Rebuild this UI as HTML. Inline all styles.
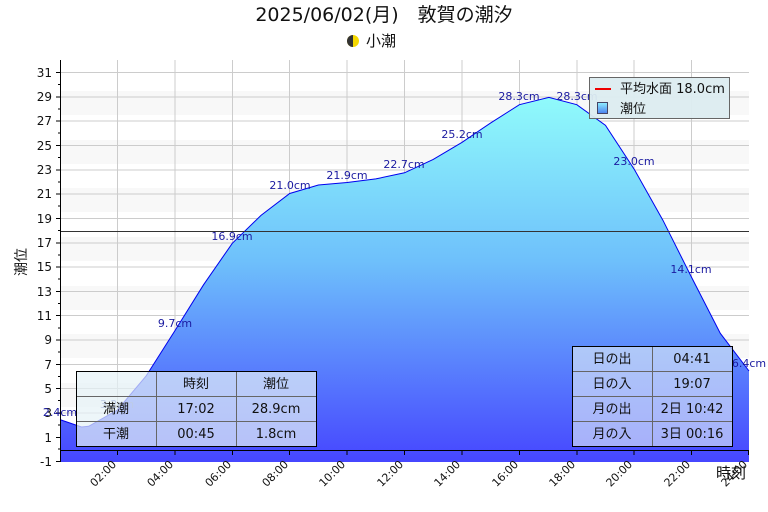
<!DOCTYPE html>
<html><head><meta charset="utf-8"><style>
body{margin:0;background:#fff}
svg{display:block;font-family:"DejaVu Sans","Noto Sans CJK JP",sans-serif}
</style></head><body>
<svg width="768" height="512" viewBox="0 0 768 512" xmlns="http://www.w3.org/2000/svg">
<defs>
<linearGradient id="g" gradientUnits="userSpaceOnUse" x1="0" y1="97" x2="0" y2="462">
<stop offset="0" stop-color="#90fbfb"/><stop offset="0.45" stop-color="#6ec0fb"/><stop offset="1" stop-color="#4646ff"/>
</linearGradient>
<linearGradient id="lg" x1="0" y1="0" x2="0" y2="1"><stop offset="0" stop-color="#90f0ff"/><stop offset="1" stop-color="#4a80f0"/></linearGradient>
</defs>
<text x="384" y="21" font-size="19" text-anchor="middle" fill="#111">2025/06/02(月)　敦賀の潮汐</text>
<circle cx="353" cy="41" r="6" fill="#f5d800"/><path d="M353 35 A6 6 0 0 0 353 47 Z" fill="#333"/>
<text x="366" y="46" font-size="15" fill="#111">小潮</text>
<g fill="#f8f8f8">
<rect x="60" y="91" width="689" height="24"/><rect x="60" y="140" width="689" height="24"/><rect x="60" y="188" width="689" height="24"/><rect x="60" y="237" width="689" height="24"/><rect x="60" y="286" width="689" height="24"/><rect x="60" y="334" width="689" height="24"/><rect x="60" y="383" width="689" height="24"/><rect x="60" y="432" width="689" height="24"/>
</g>
<g stroke="#ccc" stroke-width="1">
<line x1="60" x2="749" y1="72.5" y2="72.5"/><line x1="60" x2="749" y1="97" y2="97"/><line x1="60" x2="749" y1="121" y2="121"/><line x1="60" x2="749" y1="145.5" y2="145.5"/><line x1="60" x2="749" y1="170" y2="170"/><line x1="60" x2="749" y1="194" y2="194"/><line x1="60" x2="749" y1="218.5" y2="218.5"/><line x1="60" x2="749" y1="243" y2="243"/><line x1="60" x2="749" y1="267" y2="267"/><line x1="60" x2="749" y1="291.5" y2="291.5"/><line x1="60" x2="749" y1="315.5" y2="315.5"/><line x1="60" x2="749" y1="340" y2="340"/><line x1="60" x2="749" y1="364.5" y2="364.5"/><line x1="60" x2="749" y1="388.5" y2="388.5"/><line x1="60" x2="749" y1="413" y2="413"/><line x1="60" x2="749" y1="437.5" y2="437.5"/>
<line y1="60" y2="462" x1="117.5" x2="117.5"/><line y1="60" y2="462" x1="175" x2="175"/><line y1="60" y2="462" x1="232.5" x2="232.5"/><line y1="60" y2="462" x1="289.5" x2="289.5"/><line y1="60" y2="462" x1="347" x2="347"/><line y1="60" y2="462" x1="404.5" x2="404.5"/><line y1="60" y2="462" x1="462" x2="462"/><line y1="60" y2="462" x1="519.5" x2="519.5"/><line y1="60" y2="462" x1="577" x2="577"/><line y1="60" y2="462" x1="634" x2="634"/><line y1="60" y2="462" x1="691.5" x2="691.5"/>
</g>
<path d="M60 419.6 L81.5 427 L88.7 426.3 L117.4 410 L146.1 376 L174.8 330.9 L203.6 284.7 L232.3 243.3 L261 215.4 L289.7 193.5 L318.4 185 L347.1 182.5 L375.8 178.9 L404.5 172.8 L433.2 159.4 L461.9 142.4 L490.7 122.9 L519.4 104.7 L548.9 97.4 L576.8 104.7 L605.5 125.4 L634.2 169.2 L662.9 220.2 L691.6 277.4 L720.3 333.3 L749 371 L749 462 L60 462 Z" fill="url(#g)"/>
<path d="M60 419.6 L81.5 427 L88.7 426.3 L117.4 410 L146.1 376 L174.8 330.9 L203.6 284.7 L232.3 243.3 L261 215.4 L289.7 193.5 L318.4 185 L347.1 182.5 L375.8 178.9 L404.5 172.8 L433.2 159.4 L461.9 142.4 L490.7 122.9 L519.4 104.7 L548.9 97.4 L576.8 104.7 L605.5 125.4 L634.2 169.2 L662.9 220.2 L691.6 277.4 L720.3 333.3 L749 371" fill="none" stroke="#0000ee" stroke-width="1"/>
<line x1="60" x2="749" y1="231.5" y2="231.5" stroke="#333" stroke-width="1"/>
<line x1="60.5" x2="60.5" y1="60" y2="462" stroke="#000"/>
<line x1="60" x2="749" y1="450.5" y2="450.5" stroke="#000"/>
<g stroke="#000">
<path d="M56 72.5h4M56 97h4M56 121h4M56 145.5h4M56 170h4M56 194h4M56 218.5h4M56 243h4M56 267h4M56 291.5h4M56 315.5h4M56 340h4M56 364.5h4M56 388.5h4M56 413h4M56 437.5h4M56 461.5h4"/>
<path d="M58 84.5h2M58 109h2M58 133h2M58 157.5h2M58 182h2M58 206h2M58 230.5h2M58 255h2M58 279h2M58 303.5h2M58 328h2M58 352h2M58 376.5h2M58 400.5h2M58 425h2M58 449h2"/>
<path d="M117.5 450v5M175 450v5M232.5 450v5M289.5 450v5M347 450v5M404.5 450v5M462 450v5M519.5 450v5M577 450v5M634 450v5M691.5 450v5M748.5 450v5"/>
</g>
<g font-size="12" fill="#111" text-anchor="end">
<text x="52" y="77">31</text><text x="52" y="101">29</text><text x="52" y="125">27</text><text x="52" y="150">25</text><text x="52" y="174">23</text><text x="52" y="198">21</text><text x="52" y="223">19</text><text x="52" y="247">17</text><text x="52" y="271">15</text><text x="52" y="296">13</text><text x="52" y="320">11</text><text x="52" y="344">9</text><text x="52" y="369">7</text><text x="52" y="393">5</text><text x="52" y="417">3</text><text x="52" y="442">1</text><text x="52" y="466">-1</text>
</g>
<g font-size="11" fill="#111" text-anchor="end">
<text transform="translate(117,465) rotate(-45)">02:00</text><text transform="translate(174,465) rotate(-45)">04:00</text><text transform="translate(232,465) rotate(-45)">06:00</text><text transform="translate(289,465) rotate(-45)">08:00</text><text transform="translate(346,465) rotate(-45)">10:00</text><text transform="translate(404,465) rotate(-45)">12:00</text><text transform="translate(461,465) rotate(-45)">14:00</text><text transform="translate(519,465) rotate(-45)">16:00</text><text transform="translate(576,465) rotate(-45)">18:00</text><text transform="translate(633,465) rotate(-45)">20:00</text><text transform="translate(691,465) rotate(-45)">22:00</text><text transform="translate(748,465) rotate(-45)">24:00</text>
</g>
<text transform="translate(26,262) rotate(-90)" font-size="14" text-anchor="middle" fill="#111">潮位</text>
<text x="731" y="478" font-size="15" text-anchor="middle" fill="#111">時刻</text>
<g font-size="11" fill="#1a1aa0" text-anchor="middle">
<text x="60" y="416">2.4cm</text><text x="117" y="408" fill="#6070c0">3.2cm</text><text x="175" y="327">9.7cm</text><text x="232" y="240">16.9cm</text><text x="290" y="189">21.0cm</text><text x="347" y="179">21.9cm</text><text x="404" y="168">22.7cm</text><text x="462" y="138">25.2cm</text><text x="519" y="100">28.3cm</text><text x="577" y="100">28.3cm</text><text x="634" y="165">23.0cm</text><text x="691" y="273">14.1cm</text><text x="749" y="367">6.4cm</text>
</g>
<rect x="589.5" y="77.5" width="140" height="41" fill="#dcecf0" fill-opacity="0.95" stroke="#666"/>
<line x1="595" x2="611" y1="89" y2="89" stroke="#e00" stroke-width="2"/>
<text x="620" y="93" font-size="13" fill="#111">平均水面 18.0cm</text>
<rect x="597.5" y="102.5" width="10" height="11" fill="url(#lg)" stroke="#446"/>
<text x="620" y="113" font-size="13" fill="#111">潮位</text>
<rect x="76.5" y="371.5" width="240" height="75" fill="#e6f2f6" fill-opacity="0.7"/>
<g stroke="#666">
<line x1="156.5" x2="156.5" y1="371" y2="446"/><line x1="236.5" x2="236.5" y1="371" y2="446"/>
<line x1="76" x2="316" y1="396.5" y2="396.5"/><line x1="76" x2="316" y1="421.5" y2="421.5"/>
</g>
<rect x="76.5" y="371.5" width="240" height="75" fill="none" stroke="#000"/>
<g font-size="13" fill="#111" text-anchor="middle">
<text x="196" y="388">時刻</text><text x="276" y="388">潮位</text>
<text x="116" y="413">満潮</text><text x="196" y="413">17:02</text><text x="276" y="413">28.9cm</text>
<text x="116" y="438">干潮</text><text x="196" y="438">00:45</text><text x="276" y="438">1.8cm</text>
</g>
<rect x="572.5" y="346.5" width="160" height="100" fill="#e6f2f6" fill-opacity="0.6"/>
<g stroke="#666">
<line x1="652.5" x2="652.5" y1="346" y2="446"/>
<line x1="572" x2="732" y1="371.5" y2="371.5"/><line x1="572" x2="732" y1="396.5" y2="396.5"/><line x1="572" x2="732" y1="421.5" y2="421.5"/>
</g>
<rect x="572.5" y="346.5" width="160" height="100" fill="none" stroke="#000"/>
<g font-size="13" fill="#111" text-anchor="middle">
<text x="612" y="363">日の出</text><text x="692" y="363">04:41</text>
<text x="612" y="388">日の入</text><text x="692" y="388">19:07</text>
<text x="612" y="413">月の出</text><text x="692" y="413">2日 10:42</text>
<text x="612" y="438">月の入</text><text x="692" y="438">3日 00:16</text>
</g>
</svg>
</body></html>
